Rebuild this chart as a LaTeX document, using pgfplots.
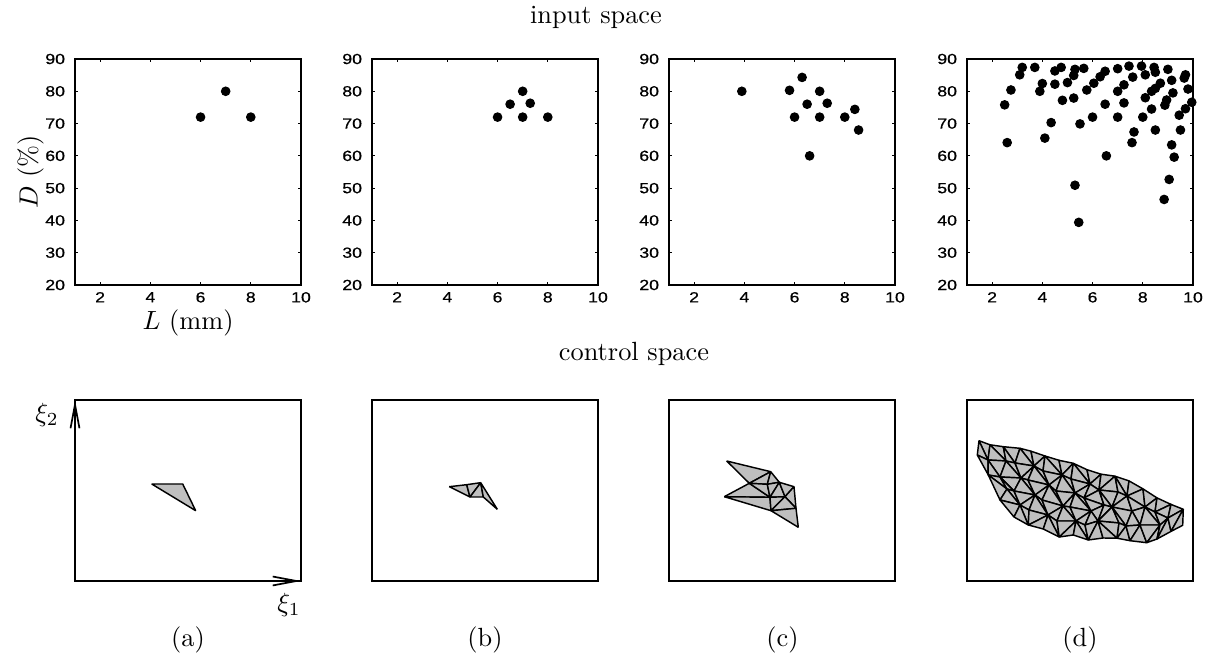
\documentclass[border=0pt]{standalone}
\usepackage{fontspec}
\usepackage{pgfplots}
\pgfplotsset{compat=1.18}
\usetikzlibrary{arrows.meta}
\newfontfamily\tickfont[FakeStretch=1.2, FakeBold=0.6]{Liberation Sans}

\pgfplotsset{
  inspace/.style={
    scale only axis, width=85.88pt, height=85.88pt,
    xmin=1, xmax=10, ymin=20, ymax=90,
    xtick={2,4,6,8,10}, ytick={20,30,...,90},
    tick align=inside, major tick length=1.15pt,
    tick style={black, line width=0.4pt},
    axis line style={line width=0.65pt},
    /pgf/number format/assume math mode=true,
    tick label style={font=\tickfont\fontsize{5.6}{6.5}\selectfont, inner sep=0pt},
    xticklabel style={yshift=-2.5pt},
    yticklabel style={xshift=-3.6pt},
    clip=false,
  },
  ctlspace/.style={
    scale only axis, width=85.88pt, height=68.78pt,
    xmin=0, xmax=226, ymin=0, ymax=181,
    xtick=\empty, ytick=\empty,
    axis line style={line width=0.65pt},
    clip=false,
    point meta min=0, point meta max=1,
    colormap={meshgray}{rgb=(0.75,0.75,0.75) rgb=(0.75,0.75,0.75)},
  },
  dots/.style={only marks, mark=*, mark size=1.62pt, black},
  trimesh/.style={patch, patch type=triangle, shader=faceted,
    faceted color=black, line width=0.55pt, point meta=0,
    table/row sep=\\},
}

\begin{document}
\begin{tikzpicture}
\path[use as bounding box] (0,0) rectangle (461.7pt,249.28pt);

% ---------------- input space ----------------
\begin{axis}[inspace, at={(28.5pt,140.98pt)}, anchor=south west]
\addplot[dots] coordinates {(6,72) (7,80) (8,72)};
\end{axis}

\begin{axis}[inspace, at={(141.36pt,140.98pt)}, anchor=south west]
\addplot[dots] coordinates {(6,72) (6.5,76) (7,80) (7.3,76.3) (7,72) (8,72)};
\end{axis}

\begin{axis}[inspace, at={(254.22pt,140.98pt)}, anchor=south west]
\addplot[dots] coordinates {
  (3.9,80) (5.8,80.3) (6.3,84.3) (7.0,80) (6.5,76) (7.3,76.3)
  (6.0,72) (7.0,72) (8.0,72) (8.4,74.4) (8.55,68) (6.6,60)};
\end{axis}

\begin{axis}[inspace, at={(367.46pt,140.98pt)}, anchor=south west]
\addplot[dots] coordinates {
  (2.5,75.8) (2.6,64.1) (2.75,80.4) (3.1,85.1) (3.2,87.4) (3.7,87.4)
  (3.9,80) (4.0,82.4) (4.1,65.5) (4.35,70.3) (4.5,86.3) (4.5,82.2)
  (4.75,87.4) (4.8,77.2) (5.0,82.7) (5.25,84.9) (5.3,86.8) (5.25,77.9)
  (5.3,50.9) (5.45,39.4) (5.5,69.9) (5.65,87.1) (5.77,80.4) (6.0,72)
  (6.05,82.5) (6.3,84.5) (6.5,86.2) (6.5,76) (6.55,60) (7.0,87)
  (7.0,80) (7.0,72) (7.25,82) (7.25,76.4) (7.45,87.8) (7.6,84.4)
  (7.65,67.4) (7.57,64.1) (7.95,87.8) (8.1,85.1) (8.1,78) (8.0,72)
  (8.35,80) (8.35,74.5) (8.45,87.4) (8.5,85.9) (8.5,80.9) (8.5,68)
  (8.7,82.5) (9.0,86.8) (8.88,75.7) (8.95,77.3) (8.85,46.5) (9.05,52.7)
  (9.15,83.4) (9.2,79.5) (9.15,63.4) (9.25,59.6) (9.45,72.6) (9.5,68)
  (9.7,85.1) (9.65,84.1) (9.7,74.6) (9.8,80.7) (9.95,76.6)};
\end{axis}

% ---------------- control space ----------------
\begin{axis}[ctlspace, at={(28.5pt,28.5pt)}, anchor=south west]
\addplot[trimesh, patch table={0 1 2\\}] table {
x y\\
76.7 97\\
107.7 97\\
120.7 70.3\\
};
\draw[line width=0.65pt, -{Straight Barb[length=9pt, width=3.4pt]}]
  (rel axis cs:0,0) -- (rel axis cs:0,1);
\draw[line width=0.65pt, -{Straight Barb[length=9pt, width=3.4pt]}]
  (rel axis cs:0,0) -- (rel axis cs:1,0);
\end{axis}

\begin{axis}[ctlspace, at={(141.36pt,28.5pt)}, anchor=south west]
\addplot[trimesh, patch table={0 1 3\\ 1 2 3\\ 3 2 4\\ 2 4 5\\}] table {
x y\\
77.3 94.3\\
94.7 96.3\\
108.7 98.3\\
98 84\\
111.3 84\\
125.3 71.7\\
};
\end{axis}

\begin{axis}[ctlspace, at={(254.22pt,28.5pt)}, anchor=south west]
\addplot[trimesh, patch table={
0 1 2\\ 2 1 3\\ 3 1 4\\ 6 2 7\\ 2 3 7\\ 3 4 7\\ 7 4 8\\
4 5 8\\ 6 7 9\\ 7 8 9\\ 8 5 10\\ 8 10 9\\ 9 10 11\\}] table {
x y\\
57.7 120\\
101.7 109.3\\
80.3 97.7\\
98.3 96.7\\
110.3 98.7\\
125 94.3\\
55.3 84.3\\
101 83.7\\
116 84.3\\
102 70.3\\
127 72.7\\
129.3 53.7\\
};
\end{axis}

\begin{axis}[ctlspace, at={(367.46pt,28.5pt)}, anchor=south west]
\addplot[trimesh, patch table={
0 2 3\\ 0 1 3\\ 1 3 4\\
2 5 6\\ 2 3 6\\ 3 6 7\\ 3 4 7\\ 4 7 8\\ 4 8 9\\
5 10 11\\ 5 6 11\\ 6 11 12\\ 6 7 12\\ 7 12 13\\ 7 8 13\\ 8 13 14\\ 8 9 14\\ 9 14 15\\
10 16 17\\ 10 11 17\\ 11 17 12\\ 12 17 18\\ 12 18 19\\ 12 13 19\\ 13 19 14\\ 14 19 20\\ 14 20 21\\ 14 15 21\\
16 22 17\\ 17 22 23\\ 17 23 24\\ 17 18 24\\ 18 24 19\\ 19 24 25\\ 19 25 26\\ 19 20 26\\ 20 26 21\\ 21 26 27\\
22 28 29\\ 22 23 29\\ 23 29 24\\ 24 29 30\\ 24 30 31\\ 24 25 31\\ 25 31 26\\ 26 31 32\\ 26 32 33\\ 26 27 33\\
28 34 29\\ 29 34 35\\ 29 35 36\\ 29 30 36\\ 30 36 31\\ 31 36 37\\ 31 37 38\\ 31 32 38\\ 32 38 33\\ 33 38 39\\
34 40 41\\ 34 35 41\\ 35 41 36\\ 36 41 42\\ 36 42 43\\ 36 37 43\\ 37 43 38\\ 38 43 44\\ 38 44 45\\ 38 39 45\\
40 41 46\\ 41 46 47\\ 41 42 47\\ 42 47 48\\ 42 43 48\\ 43 48 49\\ 43 44 49\\ 44 45 49\\ 45 49 50\\
46 51 47\\ 47 51 52\\ 47 52 53\\ 47 48 53\\ 48 53 49\\ 49 53 54\\ 49 54 55\\ 49 50 55\\
51 56 57\\ 51 52 57\\ 52 57 53\\ 53 57 58\\ 53 58 59\\ 53 54 59\\ 54 59 55\\ 55 59 60\\
56 57 61\\ 57 61 62\\ 57 58 62\\ 58 62 63\\ 58 59 63\\ 59 60 63\\ 60 63 64\\
61 65 62\\ 62 65 66\\ 62 66 67\\ 62 63 67\\ 63 67 64\\ 64 67 68\\
65 66 69\\ 66 69 70\\ 66 67 70\\ 67 68 70\\ 68 70 71\\
69 70 72\\ 70 71 72\\ 71 72 73\\}] table {
x y\\
12 140.3\\ 10.3 126\\
23 136.2\\ 21 121\\ 21.3 106\\
36.3 134.3\\ 39 120\\ 33 104\\ 40 92\\ 33 81\\
53 132.7\\ 48 118\\ 54 103\\ 47 90\\ 53 76\\ 47 64\\
64 129.8\\ 67 115\\ 61 101\\ 68 86\\ 62 71\\ 61.3 56\\
78 125\\ 76 110\\ 82 96\\ 75 81\\ 81 66\\ 76.3 52\\
92 120.7\\ 95 106\\ 89 90\\ 96 75\\ 90 60\\ 92.3 44\\
106.3 117.7\\ 104 102\\ 108 88\\ 103 74\\ 109 60\\ 106.3 46\\
120 111.3\\ 123 97\\ 117 83\\ 124 70\\ 118 56\\ 121.3 41\\
134 106.8\\ 132 91\\ 137 76\\ 131 60\\ 136 43\\
148 104.8\\ 151 89\\ 145 74\\ 152 58\\ 150 42.8\\
162 100.1\\ 160 85\\ 165 70\\ 159 55\\ 163 40.3\\
176 92.1\\ 178 74\\ 173 56\\ 179.7 38.3\\
190 83.1\\ 188 69\\ 193 56\\ 190 42\\
204 76.6\\ 201 63\\ 204 49.6\\
216.3 71.7\\ 215.7 55.7\\
};
\end{axis}

% ---------------- captions and labels ----------------
\node[anchor=base] at (226.48pt,240.16pt) {input space};
\node[anchor=base] at (240.92pt,112.1pt) {control space};
\node at (71.44pt,126.54pt) {$L$ (mm)};
\node[rotate=90] at (11.8pt,183.92pt) {$D$ (\%)};
\node at (17.86pt,91.58pt) {$\xi_2$};
\node at (109.82pt,19.38pt) {$\xi_1$};
\node at (71.44pt,6.08pt) {(a)};
\node at (184.3pt,6.08pt) {(b)};
\node at (297.35pt,6.08pt) {(c)};
\node at (410.4pt,6.08pt) {(d)};
\end{tikzpicture}
\end{document}
